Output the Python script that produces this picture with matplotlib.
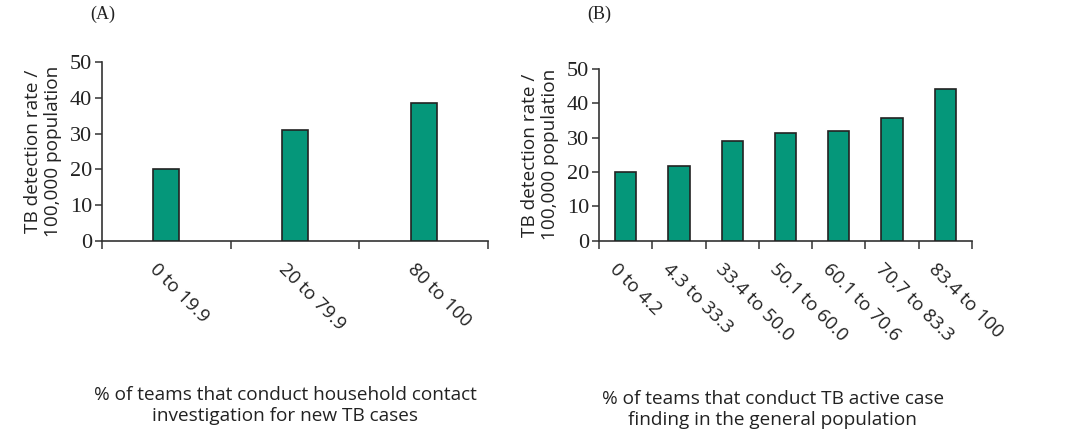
import matplotlib
matplotlib.use("Agg")
import matplotlib.pyplot as plt
import matplotlib.transforms as mtrans
import numpy as np

cats_a = ["0 to 19.9", "20 to 79.9", "80 to 100"]
rates_a = [20.2, 31.0, 38.5]

cats_b = ["0 to 4.2", "4.3 to 33.3", "33.4 to 50.0", "50.1 to 60.0",
          "60.1 to 70.6", "70.7 to 83.3", "83.4 to 100"]
rates_b = [20.1, 21.7, 28.9, 31.4, 31.9, 35.8, 44.1]

GREEN = "#05977a"
EDGE = "#222222"
AXC = "#333333"
TXT = "#222222"
SANS = "Open Sans"
SERIF = "Liberation Serif"

fig = plt.figure(figsize=(10.78, 4.36), dpi=100)


def draw_panel(rect, cats, rates, bar_w):
    ax = fig.add_axes(rect)
    x = np.arange(len(cats))
    ax.bar(x, rates, bar_w, color=GREEN, edgecolor=EDGE, linewidth=1.2, zorder=3)
    ax.set_xlim(-0.5, len(cats) - 0.5)
    ax.set_ylim(0, 50)
    ax.set_yticks([0, 10, 20, 30, 40, 50])
    for s in ["top", "right"]:
        ax.spines[s].set_visible(False)
    for s in ["left", "bottom"]:
        ax.spines[s].set_color(AXC)
        ax.spines[s].set_linewidth(1.2)
    ax.tick_params(axis="y", direction="out", length=5, width=1.1, color=AXC,
                   pad=2, labelsize=16)
    for t in ax.get_yticklabels():
        t.set_family(SERIF)
        t.set_color(TXT)
    # boundary ticks below the axis, labels at centres
    ax.set_xticks(np.arange(len(cats) + 1) - 0.5, minor=True)
    ax.tick_params(axis="x", which="minor", direction="out", length=6,
                   width=1.1, color=AXC)
    ax.set_xticks(x)
    ax.set_xticklabels(cats, rotation=-45, ha="left", va="top",
                       rotation_mode="anchor", family=SANS, fontsize=13.5,
                       color=TXT)
    ax.tick_params(axis="x", which="major", length=0, pad=14)
    shift = mtrans.ScaledTranslation(-0.07, 0, fig.dpi_scale_trans)
    for t in ax.get_xticklabels():
        t.set_transform(t.get_transform() + shift)
    ax.set_ylabel("TB detection rate /\n100,000 population", family=SANS,
                  fontsize=13.7, color=TXT, labelpad=6, linespacing=1.1)
    return ax


draw_panel([0.0946, 0.4472, 0.3581, 0.4106], cats_a, rates_a, 0.2)
draw_panel([0.5557, 0.448, 0.346, 0.3937], cats_b, rates_b, 0.4)

fig.text(0.2644, 0.07,
         "% of teams that conduct household contact\ninvestigation for new TB cases",
         ha="center", va="center", family=SANS, fontsize=13.7, color=TXT,
         linespacing=1.25)
fig.text(0.717, 0.061,
         "% of teams that conduct TB active case\nfinding in the general population",
         ha="center", va="center", family=SANS, fontsize=13.7, color=TXT,
         linespacing=1.25)
fig.text(0.0835, 0.966, "(A)", ha="left", va="center", family=SERIF,
         fontsize=13, color=TXT)
fig.text(0.5445, 0.966, "(B)", ha="left", va="center", family=SERIF,
         fontsize=13, color=TXT)

fig.savefig("out.png", dpi=100)
